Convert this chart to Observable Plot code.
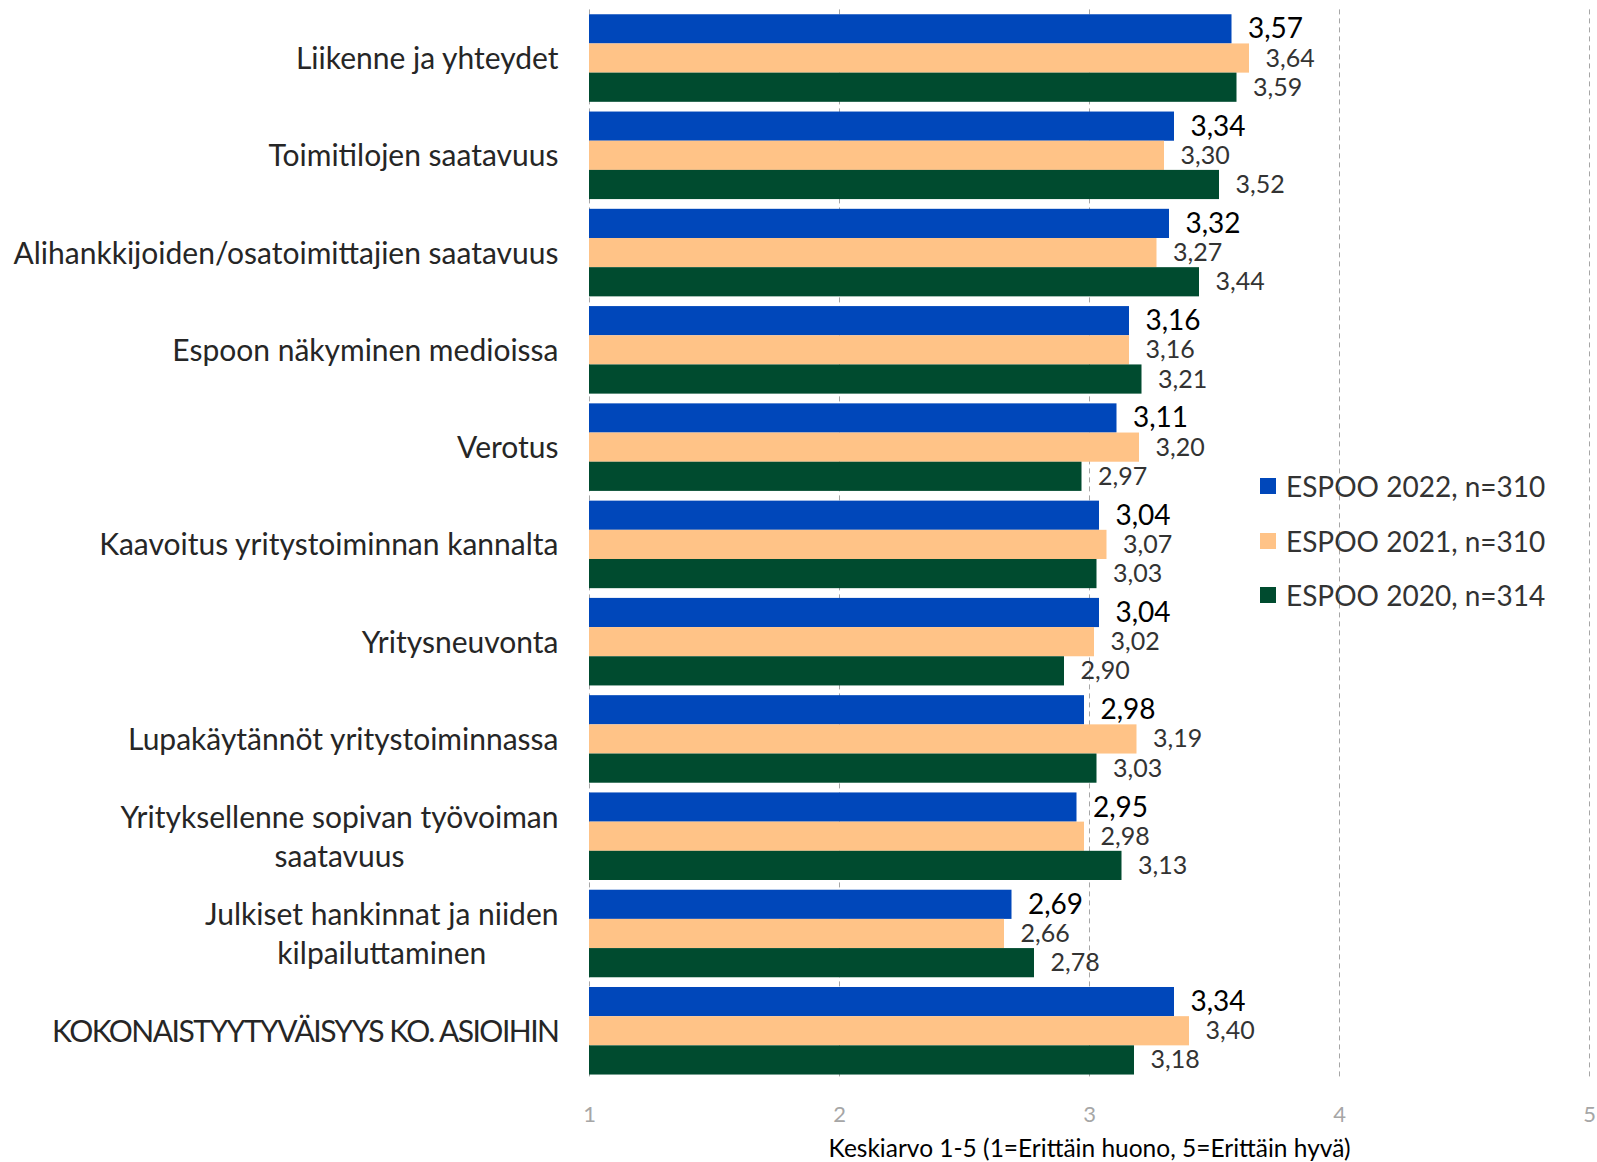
<!DOCTYPE html>
<html><head><meta charset="utf-8">
<script src="https://cdn.jsdelivr.net/npm/d3@7"></script>
<script src="https://cdn.jsdelivr.net/npm/@observablehq/plot@0.6"></script>
<style>
body{margin:0;background:#fff;font-family:Lato,sans-serif;}
#wrap{position:relative;width:1597px;height:1162px;overflow:hidden;}
.legend{position:absolute;left:1260px;top:0;font-size:28px;color:#333;font-family:Lato,sans-serif;}
.row{position:absolute;left:0;height:32px;display:flex;align-items:center;white-space:nowrap;}
.sw{width:16px;height:16px;margin-right:10px;flex:none;}
</style></head><body><div id="wrap"></div>
<script>
const categories = [
  "Liikenne ja yhteydet",
  "Toimitilojen saatavuus",
  "Alihankkijoiden/osatoimittajien saatavuus",
  "Espoon näkyminen medioissa",
  "Verotus",
  "Kaavoitus yritystoiminnan kannalta",
  "Yritysneuvonta",
  "Lupakäytännöt yritystoiminnassa",
  "Yrityksellenne sopivan työvoiman\nsaatavuus",
  "Julkiset hankinnat ja niiden\nkilpailuttaminen",
  "KOKONAISTYYTYVÄISYYS KO. ASIOIHIN"
];
const series = ["ESPOO 2022, n=310", "ESPOO 2021, n=310", "ESPOO 2020, n=314"];
const colors = ["#0047BA", "#FFC387", "#004B2F"];
const values2022 = [3.57, 3.34, 3.32, 3.16, 3.11, 3.04, 3.04, 2.98, 2.95, 2.69, 3.34];
const values2021 = [3.64, 3.30, 3.27, 3.16, 3.20, 3.07, 3.02, 3.19, 2.98, 2.66, 3.40];
const values2020 = [3.59, 3.52, 3.44, 3.21, 2.97, 3.03, 2.90, 3.03, 3.13, 2.78, 3.18];
const xTicks = [1, 2, 3, 4, 5];
const xLabel = "Keskiarvo 1-5 (1=Erittäin huono, 5=Erittäin hyvä)";

const seriesValues = [values2022, values2021, values2020];
const rows = seriesValues.map((vals, si) => categories.map((c, i) => ({cat: c, series: series[si], value: vals[i]})));

const W = 1597, H = 1162, mt = 9.4, mb = 82.6, ml = 589, mr = 8;
const pInner = 0.1, pOuter = 0.05;
const step = (H - mt - mb) / (categories.length - pInner + 2 * pOuter);
const bw = step * (1 - pInner);
const b = bw / 3;
const fmt = v => d3.format(".2f")(v).replace(".", ",");

const marks = [
  Plot.gridX(xTicks, {stroke: "#a6a6a6", strokeOpacity: 1, strokeDasharray: "5,4"})
];
rows.forEach((r, i) => {
  marks.push(Plot.barX(r, {y: "cat", x: "value", fill: colors[i], insetTop: i * b, insetBottom: (2 - i) * b}));
});
rows.forEach((r, i) => {
  marks.push(Plot.text(r, {
    y: "cat", x: "value", text: d => fmt(d.value), dx: 16, dy: (i - 1) * b,
    textAnchor: "start", fontSize: i === 0 ? 28 : 25, fill: i === 0 ? "#000" : "#333"
  }));
});
marks.push(Plot.axisY({tickSize: 0, tickPadding: 31, fontSize: 30, lineHeight: 1.3, dy: -2, label: null, fill: "#262626"}));
marks.push(Plot.axisX({ticks: xTicks, tickSize: 0, tickPadding: 26, fontSize: 22, color: "#a6a6a6", fill: "#a6a6a6", label: null, tickFormat: d => String(d)}));
marks.push(Plot.text([xLabel], {frameAnchor: "bottom", dy: 77, fontSize: 24.5, fill: "#000", text: d => d}));

const chart = Plot.plot({
  width: W, height: H,
  marginTop: mt, marginBottom: mb, marginLeft: ml, marginRight: mr,
  style: {fontFamily: "Lato, sans-serif", background: "#fff", color: "#262626", overflow: "visible"},
  x: {domain: [1, 5], clamp: true},
  y: {domain: categories, paddingInner: pInner, paddingOuter: pOuter, round: false},
  marks
});
const wrap = document.getElementById("wrap");
wrap.appendChild(chart);

// center multi-line category labels within their right-aligned block; tighten all-caps label
chart.querySelectorAll("g[aria-label='y-axis tick label'] text").forEach(t => {
  const spans = t.querySelectorAll("tspan");
  if (spans.length > 1) {
    let maxW = 0;
    spans.forEach(s => { maxW = Math.max(maxW, s.getComputedTextLength()); });
    t.setAttribute("text-anchor", "middle");
    spans.forEach(s => s.setAttribute("x", -maxW / 2));
  }
  const s = t.textContent;
  if (s === s.toUpperCase() && /[A-Z]/.test(s)) t.setAttribute("letter-spacing", "-1.5");
});

// legend
const legend = document.createElement("div");
legend.className = "legend";
const centers = [486, 541, 595];
series.forEach((s, i) => {
  const row = document.createElement("div");
  row.className = "row";
  row.style.top = (centers[i] - 16) + "px";
  const sw = document.createElement("span");
  sw.className = "sw";
  sw.style.background = colors[i];
  const tx = document.createElement("span");
  tx.textContent = s;
  row.appendChild(sw); row.appendChild(tx);
  legend.appendChild(row);
});
wrap.appendChild(legend);
</script>
</body></html>
